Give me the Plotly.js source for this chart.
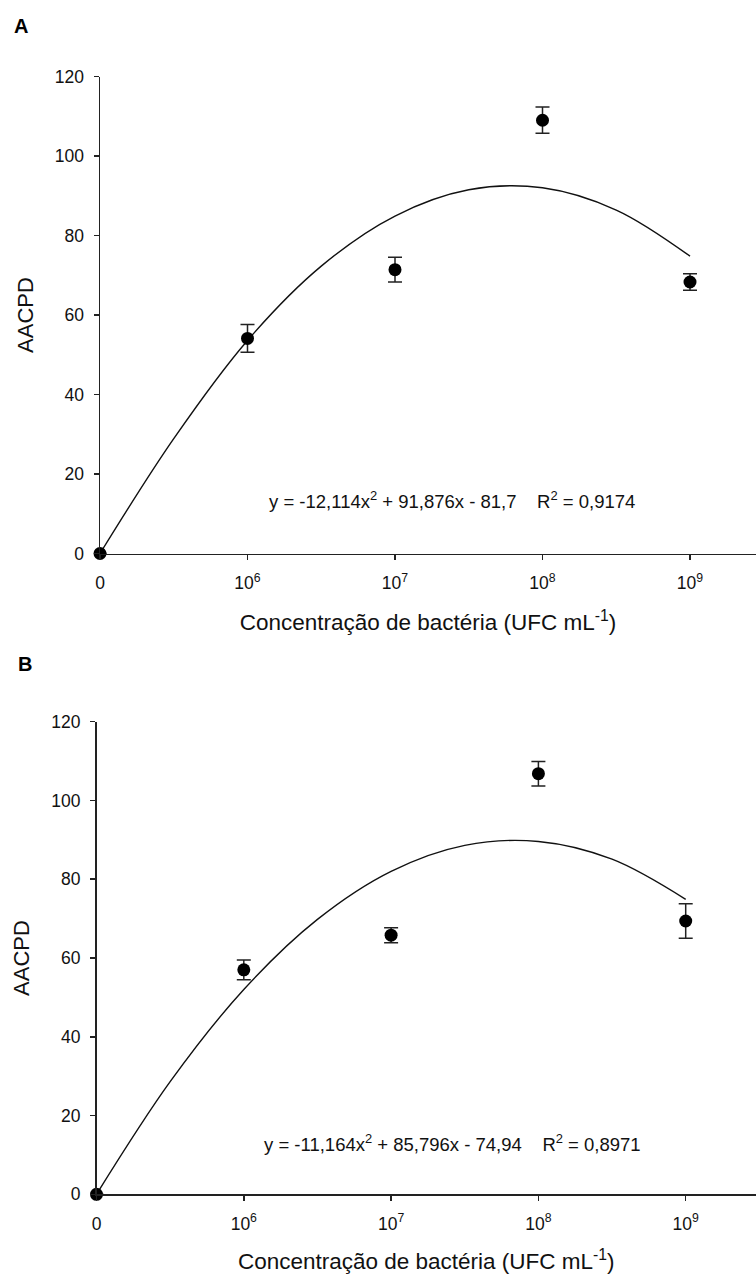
<!DOCTYPE html>
<html>
<head>
<meta charset="utf-8">
<script src="https://cdn.plot.ly/plotly-3.0.1.min.js"></script>
<style>
  html, body { margin: 0; padding: 0; background: #fff; }
  #chart { width: 756px; height: 1274px; }
</style>
</head>
<body>
<div id="chart"></div>
<script>
// Concentration positions (0, 10^6 ... 10^9) as ordinal positions 1..5
const positions = [1, 2, 3, 4, 5];
const tickLabels = ['0', '10<sup>6</sup>', '10<sup>7</sup>', '10<sup>8</sup>', '10<sup>9</sup>'];

// Panel A: AACPD means and error
const aacpdA = [0, 54.1, 71.4, 109.0, 68.3];
const errA = [0, 3.5, 3.1, 3.3, 2.1];
// Panel B
const aacpdB = [0, 57.0, 65.8, 106.8, 69.4];
const errB = [0, 2.5, 1.9, 3.1, 4.4];

// Fitted curves
const curveX = [1, 1.5, 2, 2.5, 3, 3.5, 4, 4.5, 5];
const curveA = [0, 28.9, 53.6, 72.3, 84.9, 91.5, 92.0, 86.4, 74.8];
const curveB = [0, 28.6, 52.0, 69.8, 82.0, 88.6, 89.6, 85.1, 74.9];

const eqA = 'y = -12,114x<sup>2</sup> + 91,876x - 81,7\u00A0\u00A0\u00A0\u00A0R<sup>2</sup> = 0,9174';
const eqB = 'y = -11,164x<sup>2</sup> + 85,796x - 74,94\u00A0\u00A0\u00A0\u00A0R<sup>2</sup> = 0,8971';
const xTitle = 'Concentração de bactéria (UFC mL<sup>-1</sup>)';
const yTitle = 'AACPD';

const FONT = 'Arial, "Liberation Sans", sans-serif';
const W = 756, H = 1274;

function curveTrace(y, xa, ya) {
  return {x: curveX, y: y, xaxis: xa, yaxis: ya, type: 'scatter', mode: 'lines',
    line: {color: '#111', width: 1.4, shape: 'spline', smoothing: 1}, hoverinfo: 'skip', showlegend: false};
}
function pointTrace(y, e, xa, ya) {
  return {x: positions, y: y, xaxis: xa, yaxis: ya, type: 'scatter', mode: 'markers',
    marker: {color: '#000', size: 13}, cliponaxis: false, showlegend: false,
    error_y: {type: 'data', array: e, visible: true, color: '#222', thickness: 1.5, width: 7}};
}

const data = [
  curveTrace(curveA, 'x', 'y'), pointTrace(aacpdA, errA, 'x', 'y'),
  curveTrace(curveB, 'x2', 'y2'), pointTrace(aacpdB, errB, 'x2', 'y2')
];

function xAxis(left, spacing, anchor) {
  return {
    domain: [left / W, 1], anchor: anchor,
    range: [1, 1 + (W - left) / spacing],
    tickvals: positions, ticktext: tickLabels,
    ticks: 'outside', ticklen: 5, tickwidth: 1.5, tickcolor: '#222',
    showline: true, linecolor: '#222', linewidth: 1.5,
    showgrid: false, zeroline: false, automargin: false,
    tickfont: {family: FONT, size: 17.5, color: '#111'},
    ticklabelstandoff: 8,
    title: {text: xTitle, font: {family: FONT, size: 22.5, color: '#111'}, standoff: 22}
  };
}
function yAxis(top, bottom, anchor) {
  return {
    domain: [1 - bottom / H, 1 - top / H], anchor: anchor,
    range: [0, 120], tickvals: [0, 20, 40, 60, 80, 100, 120],
    ticks: 'outside', ticklen: 5, tickwidth: 1.5, tickcolor: '#222',
    showline: true, linecolor: '#222', linewidth: 1.5,
    showgrid: false, zeroline: false, automargin: false,
    tickfont: {family: FONT, size: 17.5, color: '#111'},
    ticklabelstandoff: 6,
    title: {text: yTitle, font: {family: FONT, size: 22, color: '#111'}, standoff: 15}
  };
}

const layout = {
  width: W, height: H,
  margin: {l: 0, r: 0, t: 0, b: 0},
  paper_bgcolor: '#fff', plot_bgcolor: '#fff',
  showlegend: false,
  font: {family: FONT, color: '#111'},
  xaxis: xAxis(100, 147.5, 'y'),
  yaxis: yAxis(76.5, 553.5, 'x'),
  xaxis2: xAxis(96.5, 147.3, 'y2'),
  yaxis2: yAxis(721.7, 1194.3, 'x2'),
  annotations: [
    {text: '<b>A</b>', xref: 'paper', yref: 'paper', x: 21 / W, y: 1 - 26 / H, showarrow: false,
      font: {family: FONT, size: 20, color: '#000'}, xanchor: 'center', yanchor: 'middle'},
    {text: '<b>B</b>', xref: 'paper', yref: 'paper', x: 25 / W, y: 1 - 664 / H, showarrow: false,
      font: {family: FONT, size: 20, color: '#000'}, xanchor: 'center', yanchor: 'middle'},
    {text: eqA, xref: 'paper', yref: 'paper', x: 452 / W, y: 1 - 500 / H, showarrow: false,
      font: {family: FONT, size: 18.5, color: '#111'}, xanchor: 'center', yanchor: 'middle'},
    {text: eqB, xref: 'paper', yref: 'paper', x: 452 / W, y: 1 - 1142.7 / H, showarrow: false,
      font: {family: FONT, size: 18.5, color: '#111'}, xanchor: 'center', yanchor: 'middle'}
  ]
};

Plotly.newPlot('chart', data, layout, {staticPlot: true, displayModeBar: false});
</script>
</body>
</html>
